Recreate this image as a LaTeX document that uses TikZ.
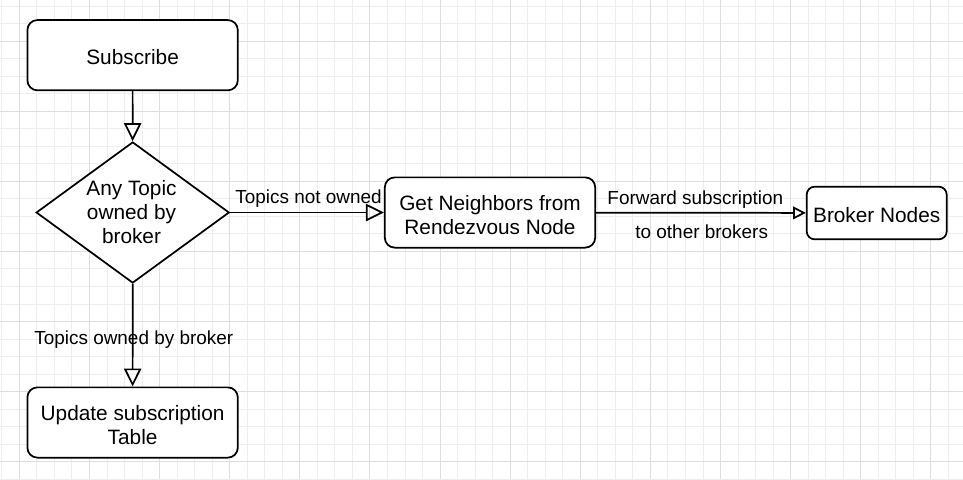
\documentclass[tikz,border=0pt]{standalone}
\usepackage{fontspec}
\setmainfont{Liberation Sans}
\usetikzlibrary{shapes.geometric,arrows.meta}
\tikzset{
  box/.style={draw=black, line width=1.3pt, rounded corners=7.5pt, fill=white,
    minimum width=157.8pt, minimum height=52.7pt, inner sep=0pt},
  smallbox/.style={box, minimum width=105pt, minimum height=39.5pt, rounded corners=6pt},
  boxtext/.style={align=center, inner sep=0pt, font=\fontsize{15.6pt}{17.6pt}\selectfont},
  decision/.style={draw=black, line width=1.3pt, diamond, fill=white,
    minimum width=144.8pt, minimum height=105.8pt, inner sep=0pt},
  dectext/.style={align=center, inner sep=0pt, font=\fontsize{15.6pt}{18pt}\selectfont},
  lbl/.style={inner sep=0pt, font=\fontsize{14.2pt}{16pt}\selectfont},
  arr/.style={line width=1.3pt, -{Triangle[open, length=13.5pt, width=13pt]}},
  arrsmall/.style={line width=1.3pt, -{Triangle[open, length=9.5pt, width=9.5pt]}},
  gminor/.style={line width=0.7pt, draw=gray!13},
  gmajor/.style={line width=0.7pt, draw=gray!26},
}
\begin{document}
\begin{tikzpicture}[x=0.75pt,y=-0.75pt]
\useasboundingbox (0,0) rectangle (963,479);
\fill[white] (0,0) rectangle (963,479);
% grid
\begin{scope}
\clip (0,0) rectangle (963,479);
\foreach \k in {0,...,54} {\draw[gminor] ({1.8+17.53*\k},0) -- ({1.8+17.53*\k},479);}
\foreach \k in {0,...,27} {\draw[gminor] (0,{6+17.53*\k}) -- (963,{6+17.53*\k});}
\foreach \k in {0,...,13} {\draw[gmajor] ({19.3+70.12*\k},0) -- ({19.3+70.12*\k},479);}
\foreach \k in {0,...,6} {\draw[gmajor] (0,{41+70.12*\k}) -- (963,{41+70.12*\k});}
\end{scope}
% shapes
\node[box] (sub) at (132.6,55.2) {};
\node[decision] (dec) at (132.7,212.5) {};
\node[box] (upd) at (132.6,422.5) {};
\node[box] (get) at (490,212.5) {};
\node[smallbox] (brk) at (876.7,213) {};
% texts
\node[boxtext] (subt) at (132.6,57) {Subscribe};
\node[dectext] (dect) at (131.5,212) {Any Topic\\owned by\\broker};
\node[boxtext] (updt) at (132.6,425) {Update subscription\\Table};
\node[boxtext] (gett) at (490,215) {Get Neighbors from\\Rendezvous Node};
\node[boxtext] (brkt) at (876.7,215.5) {Broker Nodes};
% connectors
\draw[arr] (sub) -- (dec);
\draw[arr] (dec) -- (upd);
\draw[arr] (dec) -- (get);
\draw[arrsmall] (get) -- (brk);
% labels
\node[lbl] (l1) at (308.5,199) {Topics not owned};
\node[lbl] (l2) at (695.3,199.3) {Forward subscription};
\node[lbl] (l3) at (701.7,232) {to other brokers};
\node[lbl] (l4) at (133.8,339.3) {Topics owned by broker};
\end{tikzpicture}
\end{document}
